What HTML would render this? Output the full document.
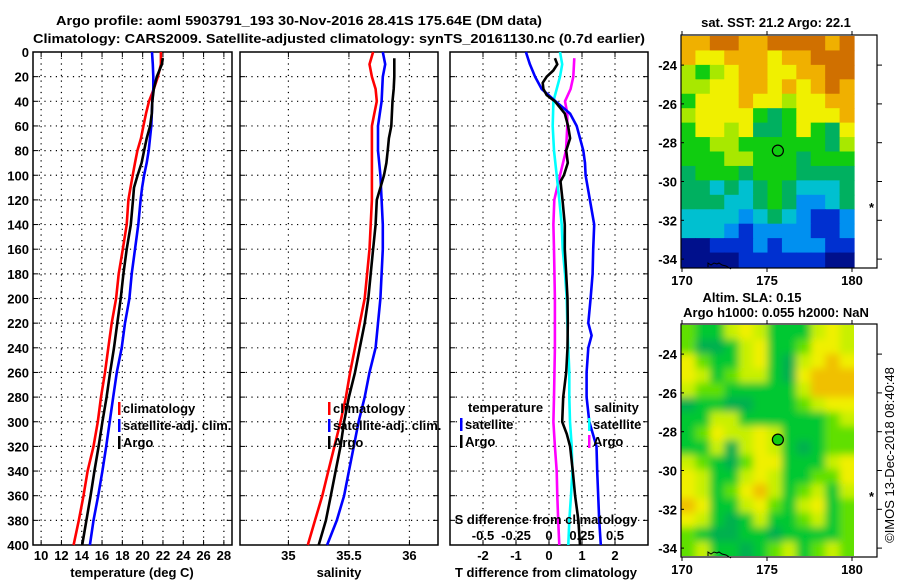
<!DOCTYPE html>
<html><head><meta charset="utf-8"><style>
html,body{margin:0;padding:0;background:#fff;}
svg{display:block;font-family:"Liberation Sans",sans-serif;}
text{font-weight:bold;font-size:13px;fill:#000;}
</style></head><body>
<svg id="s" width="900" height="580" viewBox="0 0 900 580">
<defs>
<filter id="blur" x="-5%" y="-5%" width="110%" height="110%"><feGaussianBlur stdDeviation="4"/></filter>
<clipPath id="clipSla"><rect x="681" y="325" width="173" height="231"/></clipPath>
</defs>
<text x="299" y="25" text-anchor="middle" font-size="13.5" textLength="486" lengthAdjust="spacingAndGlyphs">Argo profile: aoml 5903791_193 30-Nov-2016 28.41S 175.64E (DM data)</text>
<text x="339" y="43" text-anchor="middle" font-size="13.5" textLength="612" lengthAdjust="spacingAndGlyphs">Climatology: CARS2009. Satellite-adjusted climatology: synTS_20161130.nc (0.7d earlier)</text>
<text x="776" y="27" text-anchor="middle">sat. SST: 21.2 Argo: 22.1</text>
<text x="752" y="302" text-anchor="middle">Altim. SLA: 0.15</text>
<text x="776" y="317" text-anchor="middle">Argo h1000: 0.055 h2000: NaN</text>
<text transform="translate(894,455) rotate(-90)" text-anchor="middle" style="font-weight:normal" font-size="12">©IMOS 13-Dec-2018 08:40:48</text>
</svg>
<script>
// ---- data ----
const depths=[0,10,20,30,40,50,60,70,80,90,100,110,120,140,160,180,200,220,240,260,280,300,320,340,360,380,400];
const tempClim=[21.8,21.8,21.5,21.1,20.63,20.33,20.07,19.84,19.48,19.25,19.02,18.8,18.6,18.43,18.04,17.64,17.38,16.95,16.62,16.29,15.9,15.58,15.16,14.58,14.17,13.71,13.2];
const tempSat=[20.92,21.0,21.05,21.05,20.95,20.9,20.85,20.72,20.6,20.4,20.14,19.95,19.8,19.57,19.25,18.92,18.69,18.26,17.94,17.45,17.1,16.75,16.41,16.04,15.62,15.16,14.8];
const argoDepths=[5,10,20,30,40,50,60,70,80,90,100,110,120,140,160,180,200,220,240,260,280,300,320,340,360,380,400];
const tempArgo=[21.98,21.9,21.39,21.1,20.95,20.9,20.73,20.4,20.14,19.9,19.5,19.15,19.05,18.83,18.43,18.1,17.84,17.5,17.18,16.79,16.45,16.04,15.66,15.25,14.87,14.46,14.05];
const salClim=[35.70,35.67,35.69,35.72,35.73,35.71,35.69,35.69,35.69,35.69,35.69,35.69,35.69,35.68,35.67,35.65,35.63,35.59,35.55,35.51,35.475,35.43,35.38,35.33,35.28,35.22,35.16];
const salSat=[35.78,35.8,35.78,35.775,35.77,35.755,35.74,35.74,35.74,35.75,35.76,35.765,35.77,35.78,35.78,35.77,35.76,35.74,35.72,35.67,35.63,35.58,35.54,35.50,35.46,35.40,35.32];
const salArgo=[35.875,35.875,35.875,35.87,35.86,35.855,35.85,35.83,35.82,35.81,35.79,35.76,35.73,35.72,35.70,35.68,35.66,35.63,35.59,35.55,35.50,35.46,35.43,35.39,35.35,35.31,35.25];
const dtDepths=[0,10,20,30,40,50,60,70,80,90,100,120,140,160,180,200,220,230,240,260,280,300,320,340,360,380,400];
const dtSat=[-0.7,-0.58,-0.42,-0.22,0.2,0.64,0.84,0.94,1.04,1.09,1.11,1.24,1.37,1.34,1.32,1.26,1.19,1.29,1.19,1.14,1.14,1.22,1.44,1.46,1.49,1.52,1.57];
const dtArgoDepths=[5,10,15,20,25,30,35,40,50,60,70,80,90,100,105,120,140,160,180,200,220,240,260,280,300,310,320,340,360,380,400];
const dtArgo=[0.18,0.25,0.13,-0.07,-0.19,-0.17,-0.07,0.18,0.48,0.58,0.64,0.52,0.57,0.45,0.35,0.41,0.48,0.48,0.52,0.56,0.57,0.56,0.52,0.43,0.40,0.54,0.64,0.72,0.79,0.89,0.94];
const dsDepths=[0,10,20,30,40,60,80,100,120,140,160,180,200,220,240,260,280,300,320,340,360,380,400];
const dsSat=[0.083,0.10,0.083,0.058,0.033,0.028,0.038,0.058,0.078,0.096,0.104,0.121,0.134,0.139,0.146,0.154,0.154,0.159,0.172,0.177,0.167,0.154,0.146];
const dsArgoDepths=[5,20,30,40,50,60,80,100,120,140,160,200,240,280,300,320,340,360,380,400];
const dsArgo=[0.192,0.184,0.164,0.121,0.139,0.139,0.129,0.083,0.040,0.033,0.038,0.045,0.045,0.038,0.033,0.045,0.058,0.063,0.070,0.078];
const depthTicks=[0,20,40,60,80,100,120,140,160,180,200,220,240,260,280,300,320,340,360,380,400];
const tempTicks=[10,12,14,16,18,20,22,24,26,28];
const salTicks=[35,35.5,36];
const dtTicks=[-2,-1,0,1,2];
const dsTicks=[-0.5,-0.25,0,0.25,0.5];
const sstPalette=['#00108c','#0030d0','#0090f0','#00c0d0','#00b060','#10cc10','#a8e800','#f0f000','#f0b000','#d07000'];
const sstGrid=['889988999989','877888788999','656788778899','667788787898','577787767788','677775457778','577674457547','556655555546','555665554555','455545554444','443434543334','444334542234','333323432112','333212222112','001112122211','000011111100'];
const slaPalette={a:'#00b050',b:'#00c830',c:'#60e000',d:'#c8f000',e:'#f0f000',f:'#f0c000'};
const slaGrid=['cbbdedbbbded','caabdebbceed','ecbbdebadefe','edbcddbaefff','dccbbbbbdfff','abbaabbbcdee','bbddbbbbbbcd','bceddedbbbcc','bbdadedbabcc','dcbaceebbbde','edbbdedbbcce','edbcefdbcdbd','febbdecbdebc','edbabdbbcdbc','cbaabbabbbbc','cdbbabcdbcdc'];

const NS='http://www.w3.org/2000/svg';
const svg=document.getElementById('s');
function mk(tag,attrs,parent){const e=document.createElementNS(NS,tag);for(const k in attrs)e.setAttribute(k,attrs[k]);(parent||svg).appendChild(e);return e;}
const Y0=52,Y1=545;
const yD=d=>Y0+(Y1-Y0)*d/400;

function panel(name,x0,x1,dom){
  const g=mk('g',{});
  
  
  const sx=v=>x0+(x1-x0)*(v-dom[0])/(dom[1]-dom[0]);
  return {g,sx,x0,x1};
}
function grid(p,xt){
  depthTicks.forEach(d=>{if(d>0&&d<400){const l=mk('line',{x1:p.x0,x2:p.x1,y1:yD(d),y2:yD(d),stroke:'#000','stroke-width':1.2,'stroke-dasharray':'1.2,4.5'},p.g);
    
    }
    mk('line',{x1:p.x0,x2:p.x0+5,y1:yD(d),y2:yD(d),stroke:'#000'},p.g);mk('line',{x1:p.x1-5,x2:p.x1,y1:yD(d),y2:yD(d),stroke:'#000'},p.g);});
  xt.forEach(v=>{const x=p.sx(v);const l=mk('line',{x1:x,x2:x,y1:Y0,y2:Y1,stroke:'#000','stroke-width':1.2,'stroke-dasharray':'1.2,4.5'},p.g);
    
    
    mk('line',{x1:x,x2:x,y1:Y1-5,y2:Y1,stroke:'#000'},p.g);mk('line',{x1:x,x2:x,y1:Y0,y2:Y0+5,stroke:'#000'},p.g);});
  const r=mk('rect',{x:p.x0,y:Y0,width:p.x1-p.x0,height:Y1-Y0,fill:'none',stroke:'#000','stroke-width':1.5},p.g);
  
  
}
function line(p,xs,ds,col,name,sx){
  sx=sx||p.sx;
  const pts=xs.map((v,i)=>sx(v).toFixed(1)+','+yD(ds[i]).toFixed(1)).join(' ');
  const l=mk('polyline',{points:pts,fill:'none',stroke:col,'stroke-width':2.6,'stroke-linejoin':'round'},p.g);
  
  
}
function txt(p,x,y,s,anchor,name){const t=mk('text',{x:x,y:y,'text-anchor':anchor||'start'},p?p.g:svg);t.textContent=s;
  
  return t;}
function legendItem(p,x,y,col,s){mk('rect',{x:x,y:y-11,width:2.5,height:13,fill:col},p.g);txt(p,x+5,y,s,'start','legend-entry');}

depthTicks.forEach(d=>{txt(null,29,yD(d)+5,String(d),'end','y-tick-label');});

const p1=panel('temperature-panel',33,232,[9.2,28.8]);
grid(p1,tempTicks);
tempTicks.forEach(v=>txt(p1,p1.sx(v),560,String(v),'middle','x-tick-label'));
line(p1,tempClim,depths,'#f00','temp-climatology-line');
line(p1,tempSat,depths,'#00f','temp-satellite-line');
line(p1,tempArgo,argoDepths,'#000','temp-argo-line');
txt(p1,132,577,'temperature (deg C)','middle','x-axis-title');
legendItem(p1,118,413,'#f00','climatology');legendItem(p1,118,430,'#00f','satellite-adj. clim.');legendItem(p1,118,447,'#000','Argo');

const p2=panel('salinity-panel',240,438,[34.6,36.236]);
grid(p2,salTicks);
salTicks.forEach(v=>txt(p2,p2.sx(v),560,String(v),'middle','x-tick-label'));
line(p2,salClim,depths,'#f00','sal-climatology-line');
line(p2,salSat,depths,'#00f','sal-satellite-line');
line(p2,salArgo,argoDepths,'#000','sal-argo-line');
txt(p2,339,577,'salinity','middle','x-axis-title');
legendItem(p2,328,413,'#f00','climatology');legendItem(p2,328,430,'#00f','satellite-adj. clim.');legendItem(p2,328,447,'#000','Argo');

const p3=panel('difference-panel',450,648,[-3,3]);
const sxS=v=>549+v*132;
grid(p3,dtTicks);
dtTicks.forEach(v=>txt(p3,p3.sx(v),560,String(v),'middle','x-tick-label'));
line(p3,dsArgo,dsArgoDepths,'#f0f','sal-argo-diff-line',sxS);
line(p3,dsSat,dsDepths,'#0ff','sal-satellite-diff-line',sxS);
line(p3,dtSat,dtDepths,'#00f','temp-satellite-diff-line');
line(p3,dtArgo,dtArgoDepths,'#000','temp-argo-diff-line');
txt(p3,546,577,'T difference from climatology','middle','x-axis-title');
txt(p3,546,524,'S difference from climatology','middle','s-axis-title');
dsTicks.forEach(v=>txt(p3,sxS(v),540,String(v),'middle','s-tick-label'));
txt(p3,468,412,'temperature');legendItem(p3,460,429,'#00f','satellite');legendItem(p3,460,446,'#000','Argo');
txt(p3,594,412,'salinity');legendItem(p3,588,429,'#0ff','satellite');legendItem(p3,588,446,'#f0f','Argo');

function map(name,top,gridRows,colorOf,smooth){
  const g=mk('g',{});
  
  
  const ix0=681,ix1=854,iy0=top,iy1=top+231;
  const rows=gridRows.length,cols=gridRows[0].length;
  const cw=(ix1-ix0)/cols,ch=(iy1-iy0)/rows;
  let cg=g;
  if(smooth){const clip=mk('g',{'clip-path':'url(#clipSla)'},g);cg=mk('g',{filter:'url(#blur)'},clip);}
  gridRows.forEach((row,r)=>{[...row].forEach((c,k)=>{
    const x=ix0+k*cw-(smooth&&k===0?10:0), y=iy0+r*ch-(smooth&&r===0?10:0);
    const w=cw+0.6+(smooth&&(k===0||k===cols-1)?10:0), h=ch+0.6+(smooth&&(r===0||r===rows-1)?10:0);
    const cell=mk('rect',{x:x.toFixed(2),y:y.toFixed(2),width:w.toFixed(2),height:h.toFixed(2),fill:colorOf(c)},cg);
    
    });});
  const fr=mk('rect',{x:681,y:top-1,width:196,height:233,fill:'none',stroke:'#000','stroke-width':1.2},g);
  
  
  const latY=l=>top+(-22.5-l)*19.4;
  [-24,-26,-28,-30,-32,-34].forEach(l=>{const y=latY(l);
    mk('line',{x1:877,x2:882,y1:y,y2:y,stroke:'#000'},g);mk('line',{x1:681,x2:684,y1:y,y2:y,stroke:'#000'},g);
    const t=mk('text',{x:677,y:y+5,'text-anchor':'end'},g);t.textContent=String(l);
    
    });
  const lonX=l=>682+(l-170)*17;
  [170,175,180].forEach(l=>{const x=lonX(l);
    mk('line',{x1:x,x2:x,y1:top-1,y2:top-5,stroke:'#000'},g);mk('line',{x1:x,x2:x,y1:top+232,y2:top+236,stroke:'#000'},g);
    const t=mk('text',{x:x,y:top+249,'text-anchor':'middle'},g);t.textContent=String(l);
    
    });
  mk('path',{d:`M708 ${top+231} l0 -4 l3 2 l3 -2 l3 1 l2 -1 l3 2 l4 1 l5 3`,fill:'none',stroke:'#000','stroke-width':1},g);
  mk('text',{x:869,y:top+176,'font-size':'9'},g).textContent='*';
  const c=mk('circle',{cx:lonX(175.64),cy:latY(-28.41),r:5.5,fill:'#10cc10',stroke:'#000','stroke-width':1.2},g);
  
  
}
map('sst-map',36,sstGrid,c=>sstPalette[+c],false);
map('sla-map',325,slaGrid,c=>slaPalette[c],true);
</script>
</body></html>
